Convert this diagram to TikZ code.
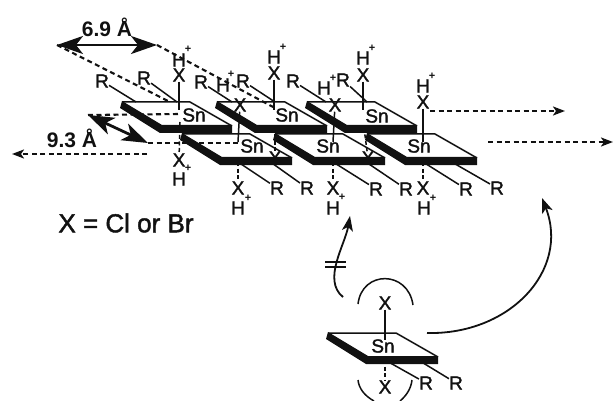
\documentclass[tikz,border=0pt]{standalone}
\usepackage{fontspec}
\setmainfont{Liberation Sans}
\newfontfamily\scanfont{Liberation Sans}[FakeBold=1.6]
\usepackage{tikz}
\usetikzlibrary{arrows.meta}
\definecolor{inkblack}{HTML}{111111}
\tikzset{
  atom/.style={font=\scanfont\fontsize{19}{19}\selectfont, text=inkblack, inner sep=0pt},
  charge/.style={font=\fontsize{11}{11}\selectfont\bfseries, text=inkblack, inner sep=0pt},
  lengthtext/.style={font=\fontsize{21}{21}\selectfont\bfseries, text=inkblack, inner sep=0pt},
  legendtext/.style={font=\scanfont\fontsize{26}{26}\selectfont, text=inkblack, inner sep=0pt},
  bond/.style={draw=inkblack, line width=1.5pt},
  backbond/.style={draw=inkblack, line width=1.5pt, dash pattern=on 4pt off 2.5pt},
  guide/.style={draw=inkblack, line width=2.1pt, dash pattern=on 5pt off 3.5pt},
  flow/.style={-{Stealth[length=12pt, width=9pt, inset=3pt]}, guide},
  spanarrow/.style={{Stealth[length=26pt, width=18pt, inset=7pt]}-{Stealth[length=26pt, width=18pt, inset=7pt]}, draw=inkblack, line width=2.8pt},
  turnarrow/.style={-{Stealth[length=15pt, width=11pt, inset=4pt]}, draw=inkblack, line width=1.8pt},
  plate/.pic={
    \fill[white] (0,0) -- (68,0) -- (110,24) -- (40,24) -- cycle;
    \draw[bond] (0,0) -- (68,0) -- (110,24);
    \fill[inkblack] (0,-1) -- (40,23) -- (110,23) -- (110,31) -- (38,31) -- (-2,6) -- cycle;
  }
}
\begin{document}
\begin{tikzpicture}[x=1pt, y=-1pt]
\useasboundingbox (0,0) rectangle (613,401);
% back row
\pic at (122,102) {plate};
\pic at (217,102) {plate};
\pic at (307,102) {plate};
\node[atom] (sna) at (194,115) {Sn};
\node[atom] (snb) at (287,115) {Sn};
\node[atom] (snc) at (377,116) {Sn};
\node[atom] (xa) at (179,75) {X};
\node[atom] (ha) at (179,60) {H};
\node[charge] (pa) at (188,49) {+};
\node[atom] (xb) at (274,73) {X};
\node[atom] (hb) at (274,57) {H};
\node[charge] (pb) at (283,47) {+};
\node[atom] (xc) at (363,75) {X};
\node[atom] (hc) at (363,58) {H};
\node[charge] (pc) at (372,48) {+};
\coordinate (ca) at (179,110);
\coordinate (cb) at (274,110);
\coordinate (cc) at (363,110);
\draw[bond] (xa) -- (ca);
\draw[bond] (xb) -- (cb);
\draw[bond] (xc) -- (cc);
\node[atom] (ra) at (102,81) {R};
\node[atom] (rb) at (144,78) {R};
\node[atom] (rc) at (201,82) {R};
\node[atom] (rd) at (243,81) {R};
\node[atom] (re) at (293,81) {R};
\node[atom] (rf) at (343,80) {R};
\coordinate (ea) at (136,102);
\coordinate (eb) at (177,102);
\coordinate (ec) at (232,102);
\coordinate (ed) at (275,102);
\coordinate (ee) at (326,102);
\coordinate (ef) at (367,102);
\draw[bond] (ra) -- (ea);
\draw[bond] (rb) -- (eb);
\draw[bond] (rc) -- (ec);
\draw[bond] (rd) -- (ed);
\draw[bond] (re) -- (ee);
\draw[bond] (rf) -- (ef);
% front row
\pic at (182,134) {plate};
\pic at (275,134) {plate};
\pic at (367,134) {plate};
\node[atom] (snd) at (252,146) {Sn};
\node[atom] (sne) at (328,146) {Sn};
\node[atom] (snf) at (419,146) {Sn};
\node[atom] (xd) at (240,105) {X};
\node[atom] (hd) at (223,85) {H};
\node[charge] (pd) at (231,74) {+};
\node[atom] (xe) at (335,105) {X};
\node[atom] (he) at (324,88) {H};
\node[charge] (pe) at (333,78) {+};
\node[atom] (xf) at (423,102) {X};
\node[atom] (hf) at (423,86) {H};
\node[charge] (pf) at (432,76) {+};
\coordinate (cd) at (238,142);
\coordinate (ce) at (333,142);
\coordinate (cf) at (423,142);
\draw[bond] (xd) -- (cd);
\draw[bond] (xe) -- (ce);
\draw[bond] (xf) -- (cf);
% lower ligands
\node[atom] (xg) at (179,160) {X};
\node[atom] (hg) at (179,179) {H};
\node[charge] (pg) at (188,168) {+};
\node[atom] (xh) at (238,188) {X};
\node[atom] (hh) at (238,208) {H};
\node[charge] (ph) at (248,198) {+};
\node[atom] (xi) at (333,188) {X};
\node[atom] (hi) at (333,208) {H};
\node[charge] (pi) at (342,197) {+};
\node[atom] (xj) at (423,188) {X};
\node[atom] (hj) at (424,208) {H};
\node[charge] (pj) at (433,198) {+};
\node[atom] (xk) at (275,158) {X};
\node[atom] (xl) at (368,158) {X};
\coordinate (dg) at (180,122);
\coordinate (dh) at (238,162);
\coordinate (di) at (333,162);
\coordinate (dj) at (423,162);
\coordinate (dk) at (275,128);
\coordinate (dl) at (364,128);
\draw[backbond] (dg) -- (xg);
\draw[backbond] (dh) -- (xh);
\draw[backbond] (di) -- (xi);
\draw[backbond] (dj) -- (xj);
\draw[backbond] (dk) -- (xk);
\draw[backbond] (dl) -- (xl);
\node[atom] (rg) at (277,188) {R};
\node[atom] (rh) at (307,188) {R};
\node[atom] (ri) at (376,189) {R};
\node[atom] (rj) at (406,189) {R};
\node[atom] (rk) at (466,189) {R};
\node[atom] (rl) at (497,188) {R};
\coordinate (fh) at (269,161);
\coordinate (fk) at (363,160);
\coordinate (fl) at (450,161);
\draw[bond] (dh) -- (rg);
\draw[bond] (fh) -- (rh);
\draw[bond] (di) -- (ri);
\draw[bond] (fk) -- (rj);
\draw[bond] (dj) -- (rk);
\draw[bond] (fl) -- (rl);
% lattice spacing
\coordinate (spana) at (57,45);
\coordinate (spanb) at (157,45);
\coordinate (spanc) at (88,115);
\coordinate (spand) at (148,143);
\node[lengthtext] (lengtha) at (107,27) {6.9 Å};
\node[lengthtext] (lengthb) at (72,138) {9.3 Å};
\draw[spanarrow] (spana) -- (spanb);
\draw[spanarrow] (spanc) -- (spand);
\coordinate (enda) at (170,102);
\coordinate (endb) at (275,108);
\coordinate (endc) at (180,114);
\coordinate (endd) at (240,143);
\draw[guide] (spana) -- (enda);
\draw[guide] (spanb) -- (endb);
\draw[guide] (spanc) -- (endc);
\draw[guide] (spand) -- (endd);
\coordinate (flowa) at (147,154);
\coordinate (flowb) at (12,154);
\coordinate (flowc) at (430,111);
\coordinate (flowd) at (565,111);
\coordinate (flowe) at (488,142);
\coordinate (flowf) at (613,142);
\draw[flow] (flowa) -- (flowb);
\draw[flow] (flowc) -- (flowd);
\draw[flow] (flowe) -- (flowf);
\node[legendtext] (legend) at (126,223) {X = Cl or Br};
% single unit
\pic at (328,333) {plate};
\node[atom] (sno) at (383,346) {Sn};
\node[atom] (xo) at (385,303) {X};
\node[atom] (xp) at (385,387) {X};
\node[atom] (ro) at (426,383) {R};
\node[atom] (rp) at (456,383) {R};
\coordinate (co) at (385,340);
\coordinate (do) at (385,360);
\coordinate (eo) at (415,358);
\draw[bond] (xo) -- (co);
\draw[backbond] (do) -- (xp);
\draw[bond] (do) -- (ro);
\draw[bond] (eo) -- (rp);
\coordinate (arca) at (358,304);
\coordinate (arcb) at (413,305);
\coordinate (arcc) at (358,380);
\coordinate (arcd) at (412,380);
\coordinate (arce) at (374,401);
\coordinate (arcf) at (400,401);
\draw[bond] (arca) .. controls (362,270) and (408,270) .. (arcb);
\draw[bond] (arcc) .. controls (359,389) and (365,396) .. (arce);
\draw[bond] (arcd) .. controls (411,389) and (406,396) .. (arcf);
\coordinate (turna) at (343,297);
\coordinate (turnb) at (350,216);
\coordinate (turnc) at (427,333);
\coordinate (turnd) at (542,198);
\draw[turnarrow] (turna) .. controls (322,280) and (345,245) .. (turnb);
\draw[turnarrow] (turnc) .. controls (510,335) and (570,270) .. (turnd);
\coordinate (nea) at (325,262);
\coordinate (neb) at (346,262);
\coordinate (nec) at (325,267);
\coordinate (ned) at (346,267);
\draw[line width=2pt, draw=inkblack] (nea) -- (neb);
\draw[line width=2pt, draw=inkblack] (nec) -- (ned);
\end{tikzpicture}
\end{document}
